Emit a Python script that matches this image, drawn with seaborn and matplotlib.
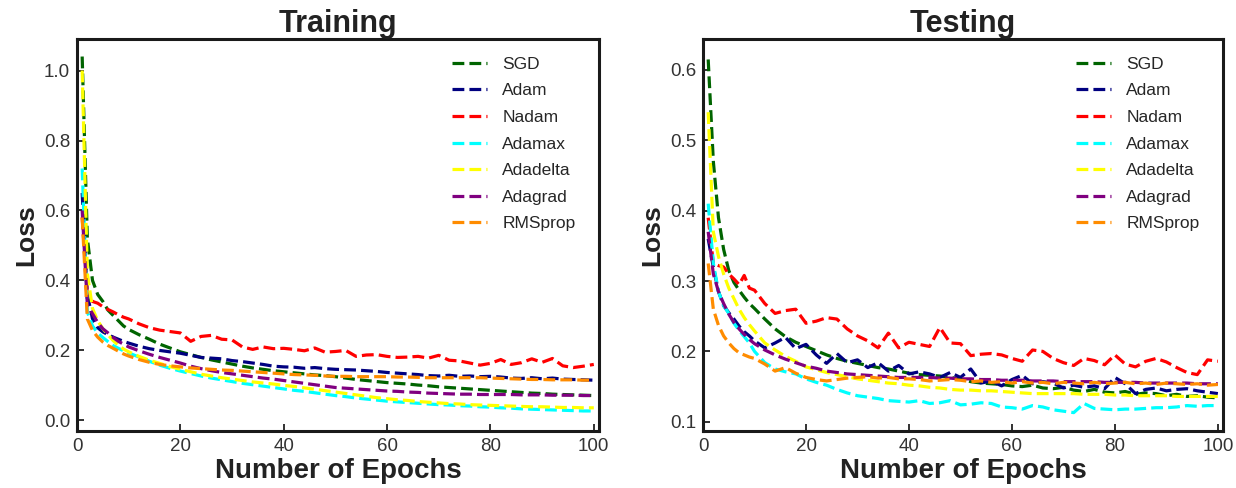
import numpy as np
import pandas as pd
import matplotlib
matplotlib.use("Agg")
import matplotlib.pyplot as plt
import seaborn as sns

sns.set_style("ticks")
plt.rcParams["font.family"] = ["Liberation Sans", "DejaVu Sans"]

epochs = list(range(1, 11)) + list(range(12, 101, 2))

optimizers = ["SGD", "Adam", "Nadam", "Adamax", "Adadelta", "Adagrad", "RMSprop"]
colors = ["darkgreen", "navy", "red", "cyan", "yellow", "purple", "darkorange"]

# ---------------- Training loss ----------------
train_sgd = [1.04, 0.52, 0.40, 0.36, 0.34, 0.315, 0.30, 0.285, 0.27, 0.26,
             0.245, 0.232, 0.218, 0.207, 0.196, 0.188, 0.18, 0.173, 0.167, 0.161,
             0.155, 0.15, 0.146, 0.142, 0.139, 0.136, 0.133, 0.13, 0.128, 0.125,
             0.121, 0.117, 0.114, 0.111, 0.108, 0.106, 0.104, 0.101, 0.099, 0.096,
             0.094, 0.092, 0.09, 0.088, 0.086, 0.084, 0.082, 0.08, 0.078, 0.077,
             0.075, 0.074, 0.073, 0.072, 0.071]
train_adam = [0.65, 0.36, 0.29, 0.265, 0.253, 0.245, 0.238, 0.232, 0.226, 0.221,
              0.212, 0.205, 0.2, 0.196, 0.192, 0.186, 0.18, 0.178, 0.176, 0.171,
              0.168, 0.164, 0.16, 0.155, 0.153, 0.152, 0.149, 0.151, 0.148, 0.146,
              0.145, 0.144, 0.142, 0.14, 0.137, 0.135, 0.133, 0.131, 0.128, 0.127,
              0.129, 0.126, 0.127, 0.125, 0.126, 0.124, 0.121, 0.12, 0.122, 0.119,
              0.121, 0.118, 0.117, 0.116, 0.115]
train_nadam = [0.58, 0.36, 0.34, 0.335, 0.325, 0.317, 0.31, 0.302, 0.295, 0.29,
               0.276, 0.265, 0.258, 0.254, 0.25, 0.226, 0.24, 0.243, 0.232, 0.23,
               0.21, 0.203, 0.21, 0.205, 0.206, 0.203, 0.199, 0.207, 0.195, 0.197,
               0.2, 0.183, 0.187, 0.188, 0.183, 0.18, 0.181, 0.183, 0.178, 0.186,
               0.172, 0.17, 0.164, 0.158, 0.163, 0.174, 0.16, 0.165, 0.176, 0.166,
               0.177, 0.156, 0.151, 0.155, 0.16]
train_adamax = [0.72, 0.31, 0.27, 0.25, 0.237, 0.225, 0.214, 0.206, 0.199, 0.193,
                0.181, 0.169, 0.158, 0.149, 0.141, 0.134, 0.127, 0.121, 0.116, 0.111,
                0.106, 0.102, 0.098, 0.094, 0.09, 0.086, 0.083, 0.079, 0.075, 0.071,
                0.068, 0.064, 0.061, 0.058, 0.055, 0.053, 0.051, 0.049, 0.047, 0.045,
                0.044, 0.042, 0.041, 0.039, 0.038, 0.036, 0.035, 0.033, 0.032, 0.031,
                0.03, 0.029, 0.028, 0.027, 0.027]
train_adadelta = [1.0, 0.42, 0.32, 0.285, 0.262, 0.245, 0.228, 0.215, 0.204, 0.196,
                  0.183, 0.172, 0.163, 0.154, 0.146, 0.139, 0.132, 0.127, 0.122, 0.118,
                  0.114, 0.11, 0.107, 0.104, 0.1, 0.097, 0.093, 0.089, 0.085, 0.081,
                  0.077, 0.073, 0.069, 0.065, 0.062, 0.059, 0.057, 0.054, 0.052, 0.05,
                  0.048, 0.047, 0.045, 0.044, 0.043, 0.042, 0.041, 0.04, 0.039, 0.039,
                  0.038, 0.037, 0.037, 0.036, 0.036]
train_adagrad = [0.6, 0.33, 0.305, 0.28, 0.262, 0.25, 0.237, 0.226, 0.218, 0.21,
                 0.199, 0.189, 0.18, 0.172, 0.164, 0.155, 0.148, 0.142, 0.137, 0.133,
                 0.129, 0.125, 0.121, 0.118, 0.114, 0.11, 0.106, 0.102, 0.098, 0.094,
                 0.092, 0.09, 0.088, 0.086, 0.084, 0.083, 0.081, 0.08, 0.078, 0.077,
                 0.076, 0.075, 0.075, 0.074, 0.074, 0.074, 0.074, 0.073, 0.073, 0.073,
                 0.072, 0.072, 0.072, 0.071, 0.071]
train_rmsprop = [0.58, 0.29, 0.257, 0.238, 0.224, 0.214, 0.206, 0.198, 0.19, 0.184,
                 0.174, 0.166, 0.16, 0.156, 0.153, 0.15, 0.148, 0.146, 0.144, 0.143,
                 0.141, 0.139, 0.137, 0.135, 0.133, 0.131, 0.13, 0.129, 0.127, 0.126,
                 0.126, 0.125, 0.125, 0.125, 0.125, 0.124, 0.124, 0.123, 0.122, 0.122,
                 0.122, 0.122, 0.122, 0.122, 0.121, 0.12, 0.119, 0.118, 0.117, 0.117,
                 0.116, 0.116, 0.116, 0.115, 0.115]

# ---------------- Testing loss ----------------
test_sgd = [0.615, 0.47, 0.39, 0.345, 0.315, 0.298, 0.287, 0.277, 0.268, 0.261,
            0.246, 0.232, 0.221, 0.213, 0.207, 0.201, 0.195, 0.19, 0.186, 0.183,
            0.18, 0.177, 0.175, 0.172, 0.169, 0.167, 0.166, 0.165, 0.163, 0.161,
            0.157, 0.155, 0.154, 0.153, 0.151, 0.15, 0.152, 0.148, 0.147, 0.149,
            0.145, 0.143, 0.146, 0.142, 0.141, 0.143, 0.139, 0.141, 0.14, 0.137,
            0.139, 0.136, 0.137, 0.135, 0.134]
test_adam = [0.36, 0.32, 0.285, 0.265, 0.255, 0.246, 0.236, 0.228, 0.222, 0.215,
             0.205, 0.212, 0.22, 0.204, 0.21, 0.195, 0.183, 0.197, 0.184, 0.188,
             0.177, 0.184, 0.172, 0.18, 0.168, 0.171, 0.168, 0.163, 0.17, 0.163,
             0.175, 0.155, 0.158, 0.151, 0.16, 0.166, 0.154, 0.157, 0.155, 0.148,
             0.152, 0.149, 0.151, 0.147, 0.163, 0.154, 0.14, 0.146, 0.148, 0.144,
             0.146, 0.147, 0.144, 0.142, 0.14]
test_nadam = [0.39, 0.325, 0.322, 0.32, 0.31, 0.303, 0.295, 0.308, 0.29, 0.287,
              0.268, 0.254, 0.258, 0.26, 0.24, 0.243, 0.248, 0.246, 0.232, 0.222,
              0.215, 0.205, 0.226, 0.205, 0.213, 0.21, 0.207, 0.234, 0.212, 0.211,
              0.194, 0.196, 0.197, 0.195, 0.19, 0.186, 0.202, 0.2, 0.19, 0.184,
              0.18, 0.19, 0.187, 0.181, 0.195, 0.182, 0.178, 0.186, 0.19, 0.185,
              0.177, 0.17, 0.167, 0.188, 0.186]
test_adamax = [0.41, 0.325, 0.285, 0.265, 0.254, 0.24, 0.23, 0.221, 0.212, 0.2,
               0.184, 0.175, 0.171, 0.168, 0.161, 0.156, 0.152, 0.146, 0.141, 0.137,
               0.135, 0.133, 0.13, 0.129, 0.128, 0.13, 0.126, 0.127, 0.13, 0.124,
               0.125, 0.127, 0.126, 0.121, 0.12, 0.118, 0.123, 0.121, 0.117, 0.115,
               0.113, 0.126, 0.119, 0.118, 0.117, 0.118, 0.118, 0.119, 0.12, 0.12,
               0.121, 0.123, 0.122, 0.123, 0.123]
test_adadelta = [0.54, 0.37, 0.335, 0.31, 0.29, 0.275, 0.26, 0.248, 0.238, 0.229,
                 0.212, 0.202, 0.193, 0.186, 0.178, 0.174, 0.17, 0.167, 0.164, 0.161,
                 0.159, 0.157, 0.155, 0.154, 0.152, 0.151, 0.149, 0.148, 0.146, 0.145,
                 0.145, 0.144, 0.144, 0.143, 0.142, 0.141, 0.14, 0.14, 0.14, 0.14,
                 0.14, 0.139, 0.139, 0.139, 0.138, 0.138, 0.137, 0.137, 0.137, 0.137,
                 0.136, 0.136, 0.136, 0.136, 0.136]
test_adagrad = [0.37, 0.31, 0.285, 0.268, 0.253, 0.241, 0.232, 0.224, 0.217, 0.211,
                0.202, 0.195, 0.189, 0.184, 0.179, 0.176, 0.172, 0.17, 0.168, 0.167,
                0.166, 0.165, 0.164, 0.163, 0.163, 0.163, 0.163, 0.162, 0.162, 0.161,
                0.161, 0.16, 0.16, 0.159, 0.159, 0.159, 0.158, 0.158, 0.158, 0.157,
                0.157, 0.157, 0.157, 0.156, 0.156, 0.156, 0.156, 0.155, 0.155, 0.155,
                0.155, 0.155, 0.154, 0.154, 0.154]
test_rmsprop = [0.325, 0.26, 0.237, 0.222, 0.212, 0.204, 0.198, 0.195, 0.192, 0.19,
                0.182, 0.172, 0.177, 0.169, 0.163, 0.16, 0.158, 0.16, 0.162, 0.163,
                0.164, 0.162, 0.163, 0.161, 0.161, 0.16, 0.158, 0.159, 0.16, 0.159,
                0.157, 0.158, 0.156, 0.157, 0.155, 0.157, 0.155, 0.156, 0.154, 0.156,
                0.155, 0.154, 0.156, 0.154, 0.155, 0.156, 0.154, 0.155, 0.153, 0.155,
                0.154, 0.153, 0.154, 0.152, 0.153]

train_series = [train_sgd, train_adam, train_nadam, train_adamax,
                train_adadelta, train_adagrad, train_rmsprop]
test_series = [test_sgd, test_adam, test_nadam, test_adamax,
               test_adadelta, test_adagrad, test_rmsprop]

fig, (ax1, ax2) = plt.subplots(1, 2, figsize=(12.36, 4.88), dpi=100)
ax1.set_position([0.0623, 0.117, 0.4223, 0.803])
ax2.set_position([0.5688, 0.117, 0.4207, 0.803])


def draw_panel(ax, series, title, ylim, yticks):
    for name, vals, col in zip(optimizers, series, colors):
        sns.lineplot(x=epochs, y=vals, ax=ax, color=col, label=name,
                     linestyle="--", linewidth=2.3)
    ax.set_xlim(0, 101)
    ax.set_ylim(*ylim)
    ax.set_xticks([0, 20, 40, 60, 80, 100])
    ax.set_yticks(yticks)
    ax.set_yticklabels([f"{t:.1f}" for t in yticks])
    ax.set_title(title, fontsize=22, fontweight="bold", color="#222222", pad=3)
    ax.set_xlabel("Number of Epochs", fontsize=20, fontweight="bold",
                  color="#222222", labelpad=2)
    ax.set_ylabel("Loss", fontsize=19, fontweight="bold", color="#222222",
                  labelpad=4)
    ax.tick_params(axis="both", direction="in", length=5, width=1.3,
                   labelsize=13.5, colors="#222222", labelcolor="#333333", pad=5)
    for sp in ax.spines.values():
        sp.set_visible(True)
        sp.set_linewidth(2.2)
        sp.set_color("#1a1a1a")
    ax.legend(loc="upper right", bbox_to_anchor=(0.985, 0.995), frameon=False,
              fontsize=12.5, handlelength=2.0, labelspacing=0.66,
              handletextpad=0.9)


draw_panel(ax1, train_series, "Training", (-0.03, 1.09),
           [0.0, 0.2, 0.4, 0.6, 0.8, 1.0])
draw_panel(ax2, test_series, "Testing", (0.087, 0.644),
           [0.1, 0.2, 0.3, 0.4, 0.5, 0.6])

fig.savefig("out.png", dpi=100)
